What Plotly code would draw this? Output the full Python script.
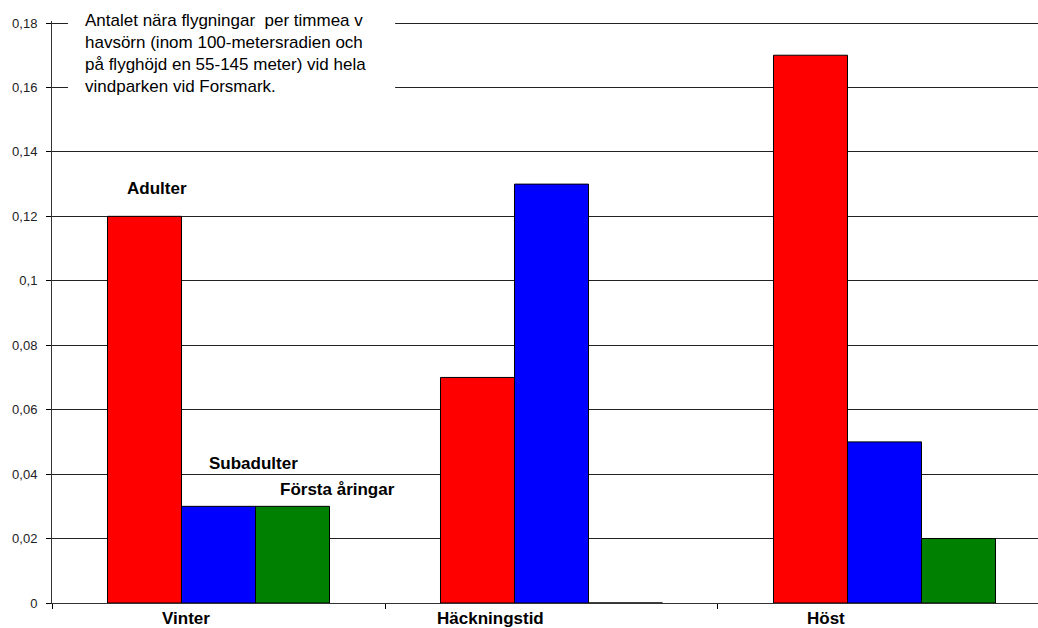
import plotly.graph_objects as go

# Seasons and flights per hour by age class
seasons = ["Vinter", "Häckningstid", "Höst"]
adulter = [0.12, 0.07, 0.17]
subadulter = [0.03, 0.13, 0.05]
forsta_aringar = [0.03, 0.0, 0.02]

y_ticks = [0, 0.02, 0.04, 0.06, 0.08, 0.10, 0.12, 0.14, 0.16, 0.18]
y_tick_text = ["0", "0,02", "0,04", "0,06", "0,08", "0,1", "0,12", "0,14", "0,16", "0,18"]

title_text = ("Antalet nära flygningar  per timmea v<br>"
              "havsörn (inom 100-metersradien och<br>"
              "på flyghöjd en 55-145 meter) vid hela<br>"
              "vindparken vid Forsmark.")

FONT = "Liberation Sans, Arial, sans-serif"
outline = dict(color="black", width=1)

fig = go.Figure()
fig.add_trace(go.Bar(x=seasons, y=adulter, name="Adulter",
                     marker=dict(color="#ff0000", line=outline)))
fig.add_trace(go.Bar(x=seasons, y=subadulter, name="Subadulter",
                     marker=dict(color="#0000ff", line=outline)))
fig.add_trace(go.Bar(x=seasons, y=forsta_aringar, name="Första åringar",
                     marker=dict(color="#008000", line=outline)))

# Series labels placed beside the winter bars
label_font = dict(family=FONT, size=17, color="black")
for text, x, y in [("<b>Adulter</b>", -0.185, 0.1285),
                   ("<b>Subadulter</b>", 0.105, 0.0433),
                   ("<b>Första åringar</b>", 0.356, 0.0351)]:
    fig.add_annotation(text=text, x=x, y=y, xref="x", yref="y",
                       showarrow=False, font=label_font)

# Category names under each group
for name, x in zip(seasons, [-0.0976, 0.818, 1.8246]):
    fig.add_annotation(text="<b>%s</b>" % name, x=x, y=-0.026,
                       xref="x", yref="paper", yanchor="middle",
                       showarrow=False, font=label_font)

# White box behind the chart caption
fig.add_shape(type="rect", xref="paper", yref="paper",
              x0=0.0162, x1=0.348, y0=0.862, y1=1.022,
              fillcolor="white", line=dict(width=0), layer="above")
fig.add_annotation(text=title_text, xref="paper", yref="paper",
                   x=0.031, y=1.02, xanchor="left", yanchor="top",
                   align="left", showarrow=False,
                   font=dict(family=FONT, size=17, color="black"))

fig.update_layout(
    width=1038, height=628,
    margin=dict(l=52, r=0, t=21, b=25),
    paper_bgcolor="white", plot_bgcolor="white",
    barmode="group", bargap=1/3, bargroupgap=0,
    showlegend=False,
    font=dict(family=FONT, color="black"),
)
fig.update_xaxes(
    range=[-0.5, 2.461],
    tickson="boundaries", ticks="outside", ticklen=5, tickcolor="black",
    showline=True, linecolor="#333", linewidth=1,
    showgrid=False, showticklabels=False,
)
fig.update_yaxes(
    range=[0, 0.18062],
    tickvals=y_ticks, ticktext=y_tick_text,
    ticks="outside", ticklen=5, tickcolor="black",
    showline=True, linecolor="#333", linewidth=1,
    showgrid=True, gridcolor="#222", gridwidth=1,
    zeroline=False, ticklabelstandoff=6,
    tickfont=dict(family=FONT, size=13, color="#222"),
)

fig.write_html("out.html")
